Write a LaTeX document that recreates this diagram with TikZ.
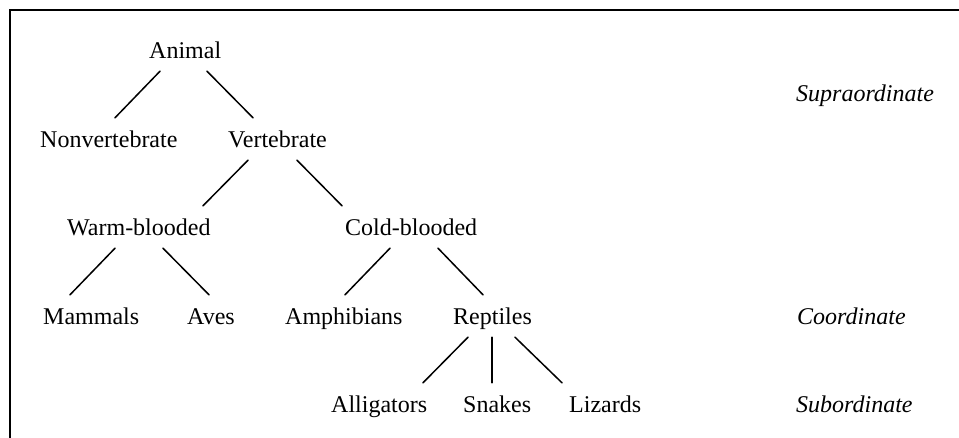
\documentclass[tikz,border=0pt]{standalone}
\usepackage{fontspec}
\setmainfont{Liberation Serif}
\usepackage{tikz}

\begin{document}
\begin{tikzpicture}[
    x=1pt, y=-1pt,
    term/.style={inner xsep=0pt, inner ysep=12pt, text height=18pt, text depth=0pt,
                 anchor=base west, font=\fontsize{24}{28}\selectfont},
    rankname/.style={term, font=\fontsize{24}{28}\selectfont\itshape},
    branch/.style={line width=1.5pt, line cap=round},
    frame/.style={line width=2.4pt}
  ]
  \useasboundingbox (0,0) rectangle (959,438);

  % Frame (top and left edge)
  \draw[frame] (959,10) -- (10,10) -- (10,438);

  % Taxonomy
  \node[term] (animal)     at (149,59)  {Animal};
  \node[term] (nonvert)    at (40,148)  {Nonvertebrate};
  \node[term] (vert)       at (228,148) {Vertebrate};
  \node[term] (warm)       at (67,236)  {Warm-blooded};
  \node[term] (cold)       at (345,236) {Cold-blooded};
  \node[term] (mammals)    at (43,325)  {Mammals};
  \node[term] (aves)       at (187,325) {Aves};
  \node[term] (amphib)     at (285,325) {Amphibians};
  \node[term] (reptiles)   at (453,325) {Reptiles};
  \node[term] (alligators) at (331,413) {Alligators};
  \node[term] (snakes)     at (463,413) {Snakes};
  \node[term] (lizards)    at (569,413) {Lizards};

  % Levels
  \node[rankname] (supra) at (796,102) {Supraordinate};
  \node[rankname] (coord) at (797,325) {Coordinate};
  \node[rankname] (subord) at (796,413) {Subordinate};

  % Connections
  \draw[branch] ([xshift=11pt]animal.south west) -- ([xshift=75pt]nonvert.north west);
  \draw[branch] ([xshift=58pt]animal.south west) -- ([xshift=25pt]vert.north west);
  \draw[branch] ([xshift=20pt]vert.south west) -- ([xshift=136pt]warm.north west);
  \draw[branch] ([xshift=69pt]vert.south west) -- ([xshift=-3pt]cold.north west);
  \draw[branch] ([xshift=48pt]warm.south west) -- ([xshift=27pt]mammals.north west);
  \draw[branch] ([xshift=96pt]warm.south west) -- ([xshift=22pt]aves.north west);
  \draw[branch] ([xshift=45pt]cold.south west) -- ([xshift=60pt]amphib.north west);
  \draw[branch] ([xshift=93pt]cold.south west) -- ([xshift=30pt]reptiles.north west);
  \draw[branch] ([xshift=15pt]reptiles.south west) -- ([xshift=92pt]alligators.north west);
  \draw[branch] ([xshift=39pt]reptiles.south west) -- ([xshift=29pt]snakes.north west);
  \draw[branch] ([xshift=62pt]reptiles.south west) -- ([xshift=-7pt]lizards.north west);
\end{tikzpicture}
\end{document}
